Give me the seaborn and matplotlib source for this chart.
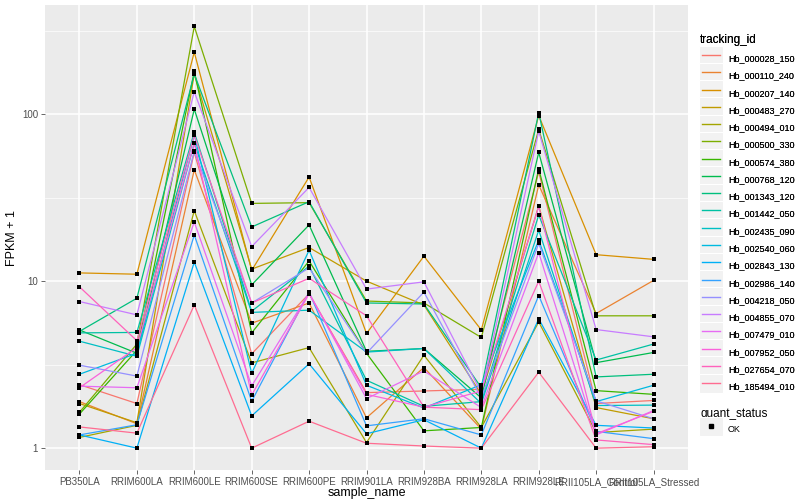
import pandas
import numpy
import matplotlib
matplotlib.use('Agg')
import matplotlib.pyplot as plt
from matplotlib.lines import Line2D
from matplotlib.patches import Rectangle
from matplotlib.legend_handler import HandlerBase
import seaborn

# samples on the x axis
samples = ['PB350LA', 'RRIM600LA', 'RRIM600LE', 'RRIM600SE', 'RRIM600PE', 'RRIM901LA',
           'RRIM928BA', 'RRIM928LA', 'RRIM928LE', 'RRII105LA_Control', 'RRII105LA_Stressed']

tracking_ids = ['Hb_000028_150', 'Hb_000110_240', 'Hb_000207_140', 'Hb_000483_270',
                'Hb_000494_010', 'Hb_000500_330', 'Hb_000574_380', 'Hb_000768_120',
                'Hb_001343_120', 'Hb_001442_050', 'Hb_002435_090', 'Hb_002540_060',
                'Hb_002843_130', 'Hb_002986_140', 'Hb_004218_050', 'Hb_004855_070',
                'Hb_007479_010', 'Hb_007952_050', 'Hb_027654_070', 'Hb_185494_010']

# FPKM + 1 per gene (one list per tracking_id)
fpkm = [
    [2.4, 1.85, 59, 3.67, 8.4, 2.15, 2.2, 2.25, 45, 1.85, 1.93],
    [1.9, 1.4, 46.4, 5.6, 7.4, 1.52, 3.04, 1.3, 37.7, 6.4, 10.1],
    [11.2, 11.0, 235, 11.6, 42, 4.86, 14.1, 5.1, 98, 14.4, 13.5],
    [1.85, 1.42, 174, 11.8, 15.9, 10.0, 7.2, 2.1, 28.2, 1.75, 1.5],
    [1.16, 1.37, 26.4, 3.24, 4.0, 1.08, 3.6, 1.33, 5.7, 1.24, 1.3],
    [1.64, 4.2, 335, 29.2, 29.5, 7.6, 7.4, 4.6, 81, 6.2, 6.2],
    [1.6, 3.85, 180, 4.9, 13.2, 3.7, 1.27, 1.33, 47, 2.21, 2.1],
    [5.1, 3.7, 107, 9.5, 21.7, 3.8, 3.95, 2.0, 59, 3.25, 3.74],
    [5.0, 7.9, 174, 21.1, 29.9, 7.4, 7.3, 2.3, 102, 2.67, 2.77],
    [4.9, 4.93, 78, 6.6, 12.3, 2.55, 1.78, 1.9, 24.9, 3.37, 4.2],
    [4.37, 3.55, 67, 6.5, 6.7, 3.76, 3.95, 1.85, 20.2, 1.8, 1.81],
    [2.77, 3.7, 75, 2.81, 15.3, 2.38, 1.74, 2.4, 17.6, 1.9, 2.38],
    [1.2, 1.0, 13.0, 1.56, 3.2, 1.22, 1.48, 1.0, 5.95, 1.37, 1.32],
    [1.2, 1.38, 18.9, 1.91, 8.6, 1.36, 1.5, 1.2, 8.2, 1.26, 1.14],
    [3.14, 2.7, 60, 7.4, 12.0, 3.7, 8.6, 2.0, 16.8, 1.92, 1.5],
    [7.55, 6.28, 136, 16.1, 36.4, 8.96, 9.9, 2.15, 79, 5.13, 4.64],
    [2.35, 2.3, 22.6, 2.36, 8.5, 1.98, 2.9, 1.75, 14.8, 1.2, 1.68],
    [2.3, 4.0, 67, 2.08, 8.4, 2.1, 1.76, 2.2, 28, 1.22, 1.66],
    [9.25, 4.4, 75, 7.4, 10.4, 6.2, 1.76, 1.7, 10, 1.12, 1.05],
    [1.34, 1.23, 7.2, 1.0, 1.45, 1.07, 1.03, 1.0, 2.85, 1.0, 1.02],
]

# ggplot default hue palette for 20 levels
colors = ['#F8766D', '#EA8331', '#D89000', '#C09B00', '#A3A500', '#7CAE00', '#39B600',
          '#00BB4E', '#00BF7D', '#00C1A3', '#00BFC4', '#00BAE0', '#00B0F6', '#35A2FF',
          '#9590FF', '#C77CFF', '#E76BF3', '#FA62DB', '#FF62BC', '#FF6C91']

rows = []
for gid, vals in zip(tracking_ids, fpkm):
    for s, v in zip(samples, vals):
        rows.append({'tracking_id': gid, 'sample_name': s, 'fpkm': v, 'quant_status': 'OK'})
df = pandas.DataFrame(rows)
df['xi'] = df['sample_name'].map({s: i for i, s in enumerate(samples)})

plt.rcParams['font.family'] = ['Liberation Sans', 'DejaVu Sans']

fig = plt.figure(figsize=(8, 5), dpi=100)
ax = fig.add_axes([45/800, 30/500, (688-45)/800, (470-5)/500])
ax.set_facecolor('#EBEBEB')

seaborn.lineplot(data=df, x='xi', y='fpkm', hue='tracking_id', palette=colors,
                 hue_order=tracking_ids, sort=False, estimator=None, units='tracking_id',
                 linewidth=0.9, legend=False, ax=ax, zorder=3)
seaborn.scatterplot(data=df, x='xi', y='fpkm', color='black', marker='s', s=7,
                    linewidth=0, legend=False, ax=ax, zorder=4)

ax.set_yscale('log')
ax.set_ylim(0.74, 450)
ax.set_xlim(-0.6, len(samples) - 0.4)
ax.set_yticks([1, 10, 100])
ax.set_yticklabels(['1', '10', '100'])
ax.set_yticks([10**0.5, 10**1.5, 10**2.5], minor=True)
ax.set_yticklabels([], minor=True)
ax.set_xticks(range(len(samples)))
ax.set_xticklabels(samples)
ax.grid(True, which='major', color='white', linewidth=1.1, zorder=0)
ax.grid(True, which='minor', axis='y', color='white', linewidth=0.5, zorder=0)
ax.set_axisbelow(True)
for sp in ax.spines.values():
    sp.set_visible(False)
ax.tick_params(axis='both', which='major', labelsize=7, colors='#4D4D4D', length=3, width=0.6,
               labelcolor='#4D4D4D', pad=2)
ax.tick_params(axis='y', which='minor', length=0)
ax.set_xlabel('sample_name', fontsize=9, labelpad=0)
ax.set_ylabel('FPKM + 1', fontsize=9, labelpad=3)


class KeyHandler(HandlerBase):
    def create_artists(self, legend, orig, xd, yd, w, h, fs, trans):
        bg = Rectangle((xd - 1, yd - 3.5), w + 2, h + 7, facecolor='#F2F2F2', edgecolor='white',
                       linewidth=0.8, transform=trans)
        if orig.get_marker() not in (None, 'None', ''):
            ln = Line2D([xd + w / 2], [yd + h / 2], marker='s', markersize=3, color='black',
                        linestyle='None', transform=trans)
        else:
            ln = Line2D([xd + 1, xd + w - 1], [yd + h / 2, yd + h / 2], color=orig.get_color(),
                        linewidth=1.0, transform=trans)
        return [bg, ln]


handles = [Line2D([], [], color=c) for c in colors]
leg1 = fig.legend(handles, tracking_ids, title='tracking_id', loc='upper left',
                  bbox_to_anchor=(692/800, 1 - 26/500), frameon=False, fontsize=6.5,
                  title_fontsize=8.5, handler_map={Line2D: KeyHandler()}, handlelength=2.4,
                  handleheight=1.2, labelspacing=0.84, alignment='left', handletextpad=0.7)
ok = Line2D([], [], marker='s', color='black', linestyle='None')
leg2 = fig.legend([ok], ['OK'], title='quant_status', loc='upper left',
                  bbox_to_anchor=(692/800, 1 - 400/500), frameon=False, fontsize=6.5,
                  title_fontsize=8.5, handler_map={Line2D: KeyHandler()}, handlelength=2.4,
                  handleheight=1.2, alignment='left', handletextpad=0.7)
fig.add_artist(leg1)

fig.savefig('out.png', dpi=100)
